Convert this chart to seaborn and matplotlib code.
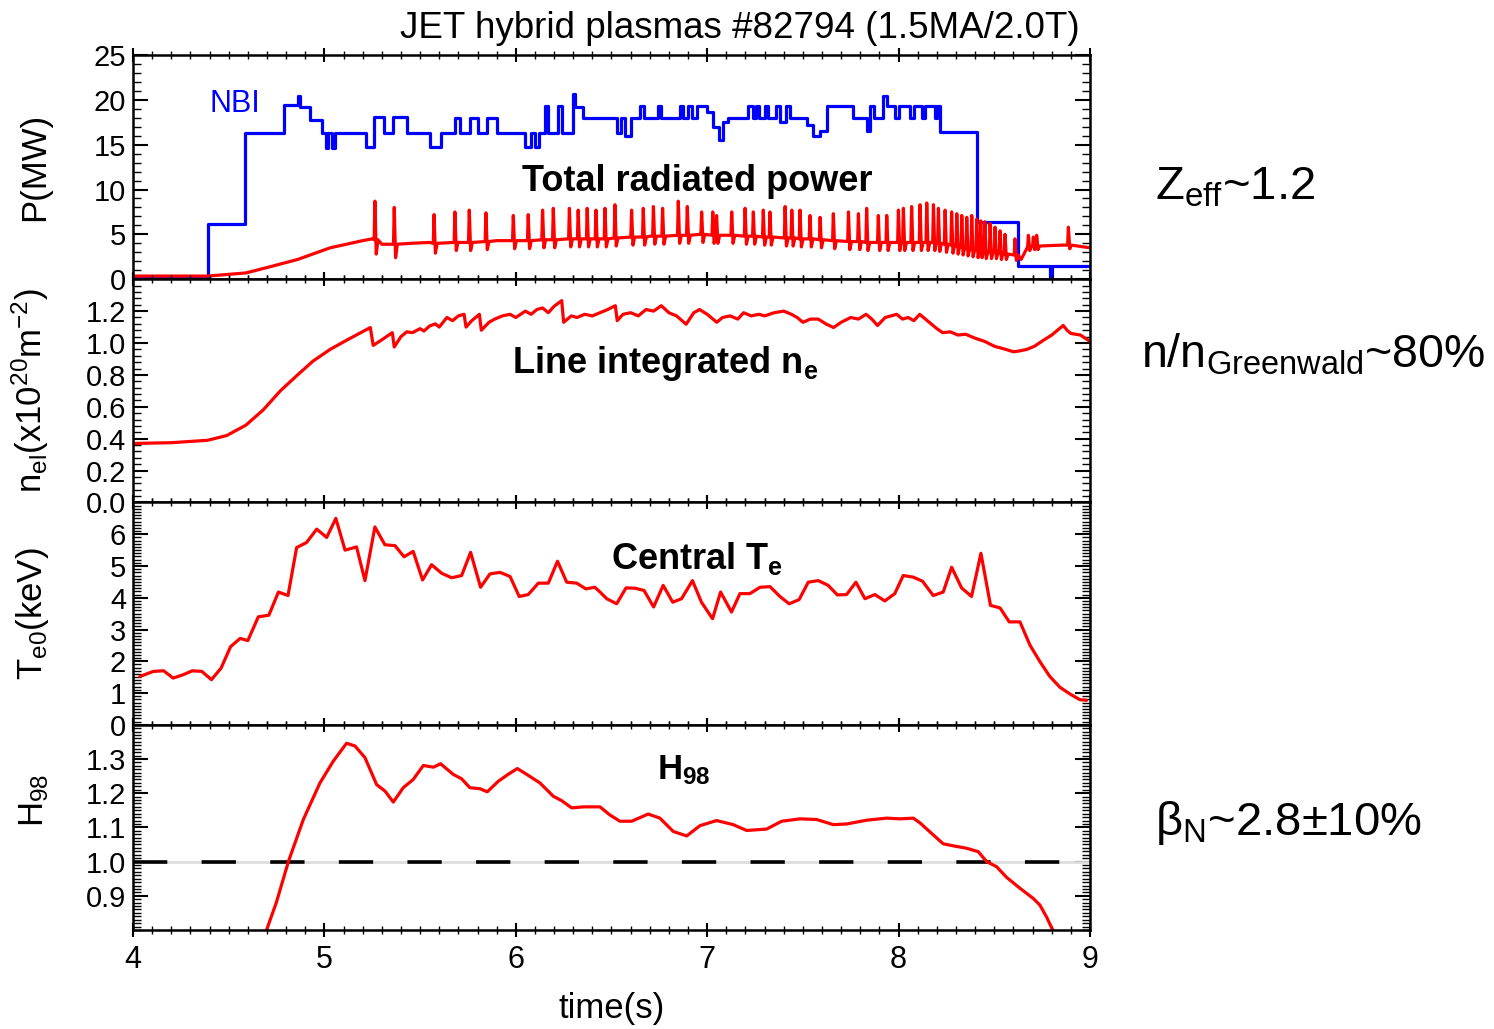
import numpy as np
import pandas as pd
import matplotlib
matplotlib.use("Agg")
import matplotlib.pyplot as plt
from matplotlib.ticker import MultipleLocator, FixedLocator, FormatStrFormatter
import seaborn as sns

sns.set_theme(style="ticks")
plt.rcParams["font.family"] = ["Liberation Sans", "DejaVu Sans"]
plt.rcParams["mathtext.fontset"] = "custom"
plt.rcParams["mathtext.rm"] = "Liberation Sans"
plt.rcParams["mathtext.it"] = "Liberation Sans:italic"
plt.rcParams["mathtext.bf"] = "Liberation Sans:bold"
plt.rcParams.update({"text.color": "black", "axes.labelcolor": "black",
                     "xtick.color": "black", "ytick.color": "black",
                     "axes.edgecolor": "black"})

# ---- NBI heating power (MW), piecewise constant ----
nbi_t = [4.00, 4.39, 4.585, 4.79, 4.86, 4.875, 4.925, 4.99, 5.01, 5.02, 5.04, 5.055,
         5.22, 5.26, 5.31, 5.36, 5.43, 5.55, 5.61, 5.68, 5.71, 5.76, 5.80, 5.85, 5.90,
         6.05, 6.08, 6.10, 6.12, 6.15, 6.17, 6.22, 6.24, 6.30, 6.31, 6.35,
         6.53, 6.55, 6.57, 6.60, 6.65, 6.67, 6.745, 6.76, 6.86, 6.875, 6.90, 6.92,
         6.945, 7.00, 7.03, 7.06, 7.08, 7.11, 7.215, 7.24, 7.255, 7.27, 7.30, 7.32,
         7.36, 7.38, 7.41, 7.43, 7.52, 7.554, 7.59, 7.624, 7.76, 7.833, 7.85, 7.87,
         7.92, 7.94, 7.98, 8.00, 8.06, 8.08, 8.12, 8.14, 8.19, 8.20, 8.216, 8.408,
         8.625, 8.79, 8.80, 9.00]
nbi_p = [0.3, 6.2, 16.3, 19.4, 20.4, 19.2, 17.8, 16.3, 14.6, 16.3, 14.6, 16.3,
         14.7, 18.1, 16.3, 18.1, 16.3, 14.7, 16.3, 18.0, 16.3, 18.0, 16.3, 18.0, 16.3,
         14.7, 16.3, 14.7, 16.3, 19.3, 16.3, 19.3, 16.3, 20.6, 19.2, 18.0,
         16.3, 18.0, 16.0, 18.0, 19.3, 18.0, 19.3, 18.0, 19.3, 18.0, 19.3, 18.0,
         19.3, 18.6, 17.0, 15.5, 17.5, 18.0, 19.3, 18.0, 19.3, 18.0, 19.3, 18.0,
         19.3, 17.5, 19.3, 18.0, 17.2, 16.0, 16.5, 19.3, 18.0, 16.5, 19.3, 18.0,
         20.4, 19.3, 18.0, 19.3, 18.0, 19.3, 18.0, 19.3, 18.0, 19.3, 16.4, 6.4,
         1.5, 0.0, 1.5, 1.5]

# ---- Total radiated power (MW): slow baseline plus ELM bursts ----
rad_base_t = [4.00, 4.20, 4.39, 4.59, 4.70, 4.86, 5.03, 5.20, 5.25, 5.30, 5.45, 5.55,
              5.90, 6.20, 6.44, 6.70, 6.96, 7.20, 7.49, 7.83, 8.18, 8.36, 8.62, 8.64,
              8.70, 8.85, 9.00]
rad_base_p = [0.35, 0.35, 0.35, 0.70, 1.30, 2.20, 3.50, 4.30, 4.50, 3.90, 4.00, 4.10,
              4.30, 4.50, 4.50, 4.80, 5.00, 4.80, 4.50, 4.10, 4.10, 3.30, 2.60, 2.20,
              3.70, 3.80, 3.50]
elm_t = [5.264, 5.365, 5.573, 5.682, 5.757, 5.844, 5.987, 6.065, 6.140, 6.196, 6.280,
         6.326, 6.373, 6.419, 6.466, 6.518, 6.605, 6.666, 6.719, 6.767, 6.849, 6.896,
         6.971, 7.029, 7.049, 7.128, 7.198, 7.241, 7.293, 7.328, 7.407, 7.442, 7.485,
         7.537, 7.590, 7.659, 7.738, 7.790, 7.833, 7.894, 7.938, 7.999, 8.025, 8.068,
         8.112, 8.147, 8.182, 8.208, 8.243, 8.277, 8.304, 8.330, 8.356, 8.382, 8.408,
         8.429, 8.451, 8.478, 8.504, 8.530, 8.556, 8.608, 8.678, 8.704, 8.721, 8.887]
elm_base = [4.4, 3.9, 4.0, 4.1, 4.1, 4.2, 4.3, 4.3, 4.4, 4.4, 4.5,
            4.5, 4.5, 4.5, 4.5, 4.6, 4.7, 4.7, 4.8, 4.8, 4.9, 4.9,
            5.0, 4.9, 4.9, 4.9, 4.8, 4.8, 4.7, 4.7, 4.6, 4.6, 4.5,
            4.5, 4.4, 4.3, 4.2, 4.2, 4.1, 4.1, 4.1, 4.1, 4.1, 4.1,
            4.1, 4.1, 4.1, 4.0, 3.9, 3.8, 3.7, 3.6, 3.4, 3.3, 3.2,
            3.2, 3.1, 3.0, 3.0, 2.9, 2.8, 2.7, 3.6, 3.7, 3.7, 3.8]
elm_peak = [8.7, 8.0, 7.2, 7.5, 7.7, 7.4, 7.1, 7.2, 7.7, 7.9, 7.9,
            7.7, 7.9, 7.7, 7.9, 8.3, 7.7, 7.9, 8.1, 7.9, 8.7, 8.1,
            7.5, 7.5, 7.1, 7.5, 7.9, 7.5, 7.7, 7.5, 8.1, 7.7, 7.7,
            7.1, 6.9, 7.3, 7.5, 7.3, 7.9, 7.1, 7.1, 7.7, 7.9, 8.1,
            8.3, 8.5, 8.3, 7.9, 7.7, 7.5, 7.3, 7.1, 6.9, 7.1, 6.7,
            6.5, 6.4, 6.2, 5.8, 5.4, 5.0, 4.5, 4.9, 4.7, 4.9, 5.8]
elm_dip = [2.8, 2.4, 2.9, 3.2, 3.2, 3.3, 3.4, 3.4, 3.5, 3.5, 3.6,
           3.6, 3.6, 3.6, 3.6, 3.7, 3.8, 3.8, 3.9, 3.9, 4.0, 4.0,
           4.1, 4.0, 4.0, 4.0, 3.9, 3.9, 3.8, 3.8, 3.7, 3.7, 3.6,
           3.6, 3.5, 3.4, 3.3, 3.3, 3.2, 3.2, 3.2, 3.2, 3.2, 3.2,
           3.2, 3.2, 3.2, 3.1, 3.0, 2.9, 2.8, 2.7, 2.6, 2.5, 2.4,
           2.4, 2.3, 2.3, 2.3, 2.2, 2.2, 2.1, 3.2, 3.3, 3.3, 3.4]

# ---- Line integrated density (1e20 m^-2) ----
ne_t = [4.00, 4.20, 4.39, 4.49, 4.59, 4.68, 4.77, 4.86, 4.94, 5.03, 5.12, 5.24,
        5.255, 5.30, 5.355, 5.365, 5.40, 5.43, 5.46, 5.50, 5.52, 5.55, 5.58, 5.60,
        5.64, 5.67, 5.70, 5.73, 5.74, 5.77, 5.81, 5.82, 5.86, 5.89, 5.93, 5.97,
        6.00, 6.05, 6.08, 6.11, 6.14, 6.17, 6.20, 6.24, 6.25, 6.29, 6.32, 6.36,
        6.40, 6.44, 6.48, 6.52, 6.53, 6.56, 6.60, 6.64, 6.68, 6.72, 6.76, 6.80,
        6.84, 6.89, 6.93, 6.96, 7.00, 7.05, 7.08, 7.12, 7.16, 7.19, 7.23, 7.27,
        7.30, 7.35, 7.40, 7.44, 7.47, 7.50, 7.54, 7.58, 7.62, 7.66, 7.70, 7.75,
        7.79, 7.83, 7.86, 7.89, 7.93, 7.99, 8.02, 8.05, 8.08, 8.11, 8.16, 8.20,
        8.23, 8.27, 8.31, 8.35, 8.40, 8.45, 8.50, 8.56, 8.60, 8.63, 8.67, 8.71,
        8.76, 8.80, 8.86, 8.88, 8.90, 8.95, 9.00]
ne_v = [0.370, 0.375, 0.390, 0.420, 0.485, 0.580, 0.700, 0.800, 0.886, 0.960, 1.020, 1.097,
        0.985, 1.020, 1.065, 0.975, 1.040, 1.070, 1.065, 1.090, 1.075, 1.107, 1.120, 1.100,
        1.160, 1.140, 1.170, 1.180, 1.100, 1.140, 1.180, 1.080, 1.130, 1.150, 1.170, 1.180,
        1.160, 1.200, 1.180, 1.210, 1.220, 1.190, 1.230, 1.266, 1.130, 1.170, 1.160, 1.180,
        1.170, 1.190, 1.210, 1.234, 1.140, 1.180, 1.190, 1.170, 1.210, 1.200, 1.234, 1.190,
        1.170, 1.118, 1.190, 1.210, 1.180, 1.130, 1.160, 1.170, 1.150, 1.190, 1.170, 1.180,
        1.170, 1.190, 1.200, 1.180, 1.160, 1.130, 1.150, 1.150, 1.120, 1.097, 1.130, 1.160,
        1.150, 1.180, 1.150, 1.110, 1.160, 1.180, 1.150, 1.160, 1.140, 1.180, 1.130, 1.090,
        1.065, 1.070, 1.050, 1.055, 1.030, 1.010, 0.980, 0.960, 0.945, 0.950, 0.960, 0.980,
        1.020, 1.050, 1.110, 1.080, 1.060, 1.050, 1.010]

# ---- Central electron temperature (keV) ----
te_t = [4.036, 4.106, 4.16, 4.21, 4.26, 4.31, 4.36, 4.41, 4.46, 4.51, 4.56, 4.60,
        4.655, 4.71, 4.76, 4.81, 4.855, 4.907, 4.96, 5.012, 5.06, 5.108, 5.168, 5.212,
        5.264, 5.316, 5.369, 5.416, 5.464, 5.513, 5.56, 5.613, 5.665, 5.717, 5.764, 5.816,
        5.865, 5.917, 5.97, 6.018, 6.065, 6.118, 6.17, 6.218, 6.266, 6.318, 6.366, 6.413,
        6.44, 6.475, 6.527, 6.576, 6.623, 6.67, 6.72, 6.77, 6.82, 6.866, 6.923, 6.97,
        7.028, 7.07, 7.127, 7.171, 7.223, 7.276, 7.328, 7.38, 7.428, 7.48, 7.528, 7.58,
        7.632, 7.68, 7.728, 7.777, 7.824, 7.876, 7.928, 7.98, 8.024, 8.076, 8.125, 8.181,
        8.233, 8.277, 8.329, 8.381, 8.43, 8.48, 8.53, 8.578, 8.634, 8.686, 8.738, 8.79,
        8.843, 8.895, 8.947, 8.982]
te_v = [1.52, 1.68, 1.70, 1.47, 1.57, 1.70, 1.68, 1.42, 1.78, 2.46, 2.72, 2.65,
        3.40, 3.45, 4.18, 4.07, 5.58, 5.74, 6.16, 5.90, 6.50, 5.50, 5.60, 4.54,
        6.23, 5.67, 5.64, 5.29, 5.46, 4.56, 5.04, 4.77, 4.63, 4.70, 5.43, 4.33,
        4.75, 4.80, 4.67, 4.04, 4.10, 4.46, 4.46, 5.15, 4.49, 4.46, 4.28, 4.33,
        4.18, 3.97, 3.81, 4.31, 4.30, 4.23, 3.71, 4.39, 3.86, 3.97, 4.54, 3.86,
        3.34, 4.18, 3.55, 4.13, 4.13, 4.33, 4.35, 4.04, 3.81, 3.94, 4.49, 4.54,
        4.39, 4.09, 4.10, 4.49, 3.97, 4.10, 3.90, 4.13, 4.70, 4.65, 4.52, 4.07,
        4.18, 4.96, 4.31, 4.04, 5.40, 3.76, 3.68, 3.24, 3.24, 2.51, 1.99, 1.52,
        1.18, 0.97, 0.79, 0.77]

# ---- Confinement enhancement factor H98 ----
h98_t = [4.698, 4.75, 4.812, 4.89, 4.977, 5.047, 5.116, 5.16, 5.212, 5.273, 5.317, 5.36,
         5.412, 5.464, 5.517, 5.57, 5.607, 5.673, 5.717, 5.76, 5.813, 5.851, 5.909, 5.96,
         6.008, 6.057, 6.126, 6.196, 6.24, 6.292, 6.353, 6.44, 6.49, 6.544, 6.605, 6.692,
         6.753, 6.823, 6.893, 6.962, 7.049, 7.136, 7.206, 7.31, 7.389, 7.485, 7.572, 7.659,
         7.729, 7.833, 7.937, 8.007, 8.077, 8.112, 8.181, 8.233, 8.286, 8.355, 8.416, 8.46,
         8.512, 8.564, 8.634, 8.704, 8.738, 8.773, 8.805]
h98_v = [0.800, 0.882, 1.000, 1.123, 1.230, 1.294, 1.346, 1.338, 1.304, 1.225, 1.206, 1.174,
         1.216, 1.240, 1.281, 1.276, 1.286, 1.255, 1.242, 1.216, 1.213, 1.204, 1.235, 1.255,
         1.272, 1.255, 1.230, 1.191, 1.178, 1.157, 1.160, 1.160, 1.137, 1.118, 1.118, 1.139,
         1.127, 1.088, 1.075, 1.105, 1.120, 1.108, 1.091, 1.095, 1.118, 1.125, 1.123, 1.108,
         1.110, 1.121, 1.127, 1.125, 1.127, 1.113, 1.078, 1.052, 1.046, 1.039, 1.029, 1.000,
         0.985, 0.954, 0.922, 0.892, 0.873, 0.838, 0.800]

RED = "#ff0000"
BLUE = "#0000ff"
LW = 2.3

# assemble the radiated-power trace from the baseline and ELM bursts
pts = []
for t, p in zip(rad_base_t, rad_base_p):
    if all(not (e - 0.006 <= t <= e + 0.018) for e in elm_t):
        pts.append((t, p))
for t, b, pk, d in zip(elm_t, elm_base, elm_peak, elm_dip):
    pts += [(t - 0.004, b), (t, pk), (t + 0.007, d), (t + 0.016, b)]
pts.sort()
rad = pd.DataFrame(pts, columns=["t", "P"])
nbi = pd.DataFrame({"t": nbi_t, "P": nbi_p})
ne = pd.DataFrame({"t": ne_t, "v": ne_v})
te = pd.DataFrame({"t": te_t, "v": te_v})
h98 = pd.DataFrame({"t": h98_t, "v": h98_v})

fig, axes = plt.subplots(
    4, 1, sharex=True, figsize=(14.94, 10.29), dpi=100,
    gridspec_kw=dict(height_ratios=[224, 223, 222, 205], hspace=0,
                     left=0.089, right=0.7296, top=0.9466, bottom=0.0962))
ax1, ax2, ax3, ax4 = axes

sns.lineplot(data=nbi, x="t", y="P", ax=ax1, color=BLUE, lw=LW,
             drawstyle="steps-post", estimator=None, sort=False)
sns.lineplot(data=rad, x="t", y="P", ax=ax1, color=RED, lw=LW,
             estimator=None, sort=False)
sns.lineplot(data=ne, x="t", y="v", ax=ax2, color=RED, lw=LW, estimator=None, sort=False)
sns.lineplot(data=te, x="t", y="v", ax=ax3, color=RED, lw=LW, estimator=None, sort=False)
ax4.axhline(1.0, color="#dddddd", lw=2.0, zorder=1)
ax4.axhline(1.0, color="black", lw=2.6, dashes=(9.5, 9.5), zorder=2)
sns.lineplot(data=h98, x="t", y="v", ax=ax4, color=RED, lw=LW, estimator=None, sort=False)

ax1.set_ylim(0, 25)
ax1.yaxis.set_major_locator(MultipleLocator(5))
ax1.yaxis.set_minor_locator(MultipleLocator(1))
ax2.set_ylim(0, 1.4)
ax2.yaxis.set_major_locator(FixedLocator([0, 0.2, 0.4, 0.6, 0.8, 1.0, 1.2]))
ax2.yaxis.set_minor_locator(MultipleLocator(0.04))
ax2.yaxis.set_major_formatter(FormatStrFormatter("%.1f"))
ax3.set_ylim(0, 7)
ax3.yaxis.set_major_locator(FixedLocator([0, 1, 2, 3, 4, 5, 6]))
ax3.yaxis.set_minor_locator(MultipleLocator(0.1))
ax4.set_ylim(0.8, 1.4)
ax4.yaxis.set_major_locator(FixedLocator([0.9, 1.0, 1.1, 1.2, 1.3]))
ax4.yaxis.set_minor_locator(MultipleLocator(0.01))
ax4.yaxis.set_major_formatter(FormatStrFormatter("%.1f"))

for ax in axes:
    ax.set_xlim(4, 9)
    ax.xaxis.set_major_locator(MultipleLocator(1))
    ax.xaxis.set_minor_locator(MultipleLocator(0.1))
    ax.tick_params(axis="x", which="both", direction="inout", top=True, bottom=True)
    ax.tick_params(axis="x", which="major", length=10, width=1.5, labelsize=22, pad=6)
    ax.tick_params(axis="x", which="minor", length=6, width=1.0)
    ax.tick_params(axis="y", which="both", direction="in", left=True, right=True)
    ax.tick_params(axis="y", which="major", length=11, width=1.5, labelsize=21, pad=5)
    ax.tick_params(axis="y", which="minor", length=6, width=1.0)
    for s in ax.spines.values():
        s.set_visible(True)
        s.set_linewidth(1.8)
        s.set_color("black")
    ax.set_xlabel("")

ylab_kw = dict(fontsize=25)
ax1.set_ylabel("P(MW)", **ylab_kw)
ax2.set_ylabel(r"n$_{\mathrm{el}}$(x10$^{20}$m$^{-2}$)", **ylab_kw)
ax3.set_ylabel(r"T$_{\mathrm{e0}}$(keV)", **ylab_kw)
ax4.set_ylabel(r"H$_{98}$", **ylab_kw)
for ax, yc in zip(axes, [0.5, 0.5, 0.5, 0.63]):
    ax.yaxis.set_label_coords(-0.086, yc)

ax4.set_xlabel("time(s)", fontsize=25, labelpad=12)

# panel annotations
ax1.text(4.40, 18.6, "NBI", color=BLUE, fontsize=22)
ax1.text(6.947, 9.8, "Total radiated power", fontsize=26, fontweight="bold", ha="center")
ax2.text(5.98, 0.81, r"Line integrated n$_{\mathbf{e}}$", fontsize=26, fontweight="bold")
ax3.text(6.497, 4.92, r"Central T$_{\mathbf{e}}$", fontsize=26, fontweight="bold")
ax4.text(6.738, 1.24, r"H$_{\mathbf{98}}$", fontsize=25, fontweight="bold")

fig.text(0.495, 0.963, "JET hybrid plasmas #82794 (1.5MA/2.0T)", fontsize=26.5, ha="center")
fig.text(0.773, 0.806, r"Z$_{\mathrm{eff}}$~1.2", fontsize=34)
fig.text(0.764, 0.643, r"n/n$_{\mathrm{Greenwald}}$~80%", fontsize=33.5)
fig.text(0.773, 0.1885, r"β$_{\mathrm{N}}$~2.8±10%", fontsize=34)

fig.savefig("out.png", dpi=100)
